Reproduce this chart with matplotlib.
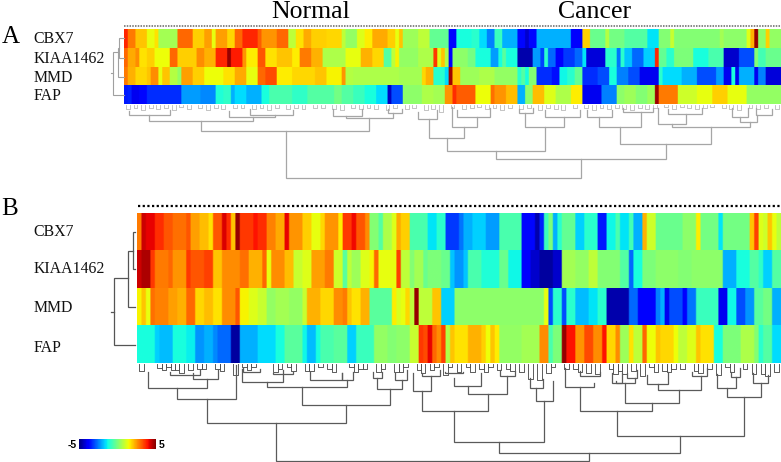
import numpy as np
import matplotlib
matplotlib.use("Agg")
import matplotlib.pyplot as plt
from matplotlib.cm import ScalarMappable
from matplotlib.colors import Normalize

W, H = 781, 462
GENES = ["CBX7", "KIAA1462", "MMD", "FAP"]
N_A, N_B = 172, 144

# Panel A, values and run lengths per gene
A_CBX7_V = [3.7,2.8,2.0,1.3,1.7,.5,3.0,1.9,2.4,1.3,2.4,1.8,3.0,3.7,3.1,2.5,3.0,.8,1.7,2.3,1.9,1.8,.8,.3,1.2,1.6,2.3,1.9,
            1.3,2.0,.4,.8,-.3,-3.7,-1.2,-1,-1.6,-2.5,-.8,-2,-3.7,-4.3,-3.7,-2,-3.9,1.9,-.2,.7,-.1,-.5,-1.5,.1,.9,.1,.5,.2,1.2,2.2,4.8,.2,1.9,.3]
A_CBX7_R = [1,2,3,2,1,5,4,3,2,1,3,2,2,4,1,4,3,2,2,2,4,4,1,3,2,2,4,2,
            1,1,4,3,5,2,4,2,2,2,2,4,2,1,2,9,3,2,4,1,4,6,3,3,1,12,1,6,1,1,1,2,1,3]
A_KIAA_V = [3.0,2.3,2.6,1.7,1.9,1.4,3.0,1.9,2.6,2.2,3.7,4.8,3.8,2.5,1.6,3.2,1.7,2.0,1.6,2.8,2.2,.6,1.3,2.2,1.8,-.5,.8,1.5,.3,.6,3.5,1.2,2,.6,-3.9,.2,-.1,-1.2,-2.2,-1.2,-.4,-1.2,-4.6,-2.2,-3.1,-1,-2.7,-3.8,-3.2,-2.7,-1.5,-4.2,-1,-2.6,-1,-1.8,-2.7,-1.7,3.7,-.3,-1,0,-1.2,-.6,-4.3,-3,.1,-.7,-.2]
A_KIAA_R = [1,2,1,2,2,4,2,5,2,3,3,1,3,1,3,2,3,4,2,3,3,6,4,3,3,2,1,1,5,4,1,1,1,1,1,4,2,4,2,1,1,3,4,2,1,1,2,2,3,2,1,5,3,1,1,2,3,3,1,2,2,5,4,4,4,4,1,2,4]
A_MMD_V = [2.8,2.2,1.8,2,2.6,1.3,2,.7,.3,2.4,1.9,1.4,1.7,2.3,1.3,3,3.3,1.6,1.8,2,1.5,2.5,.7,.6,.5,1.8,2.2,-1,-1.6,4.7,2,.4,.6,.3,-1,-.5,-1.2,.1,-3.3,-3.6,-1.3,-1,-.3,-3.3,-3,-1.2,-2.5,-3,-4,-1,-1.6,-2,-3,-2.2,-4,-1.2,-4,-2,-4,-2.5,-4.2]
A_MMD_R = [1,2,3,1,2,1,2,2,1,3,3,5,3,3,3,2,3,4,6,3,4,1,2,12,6,1,2,3,1,1,2,5,4,6,1,1,1,2,4,2,2,2,2,4,3,2,3,3,5,1,5,4,5,2,2,1,1,4,1,2,4]
A_FAP_V = [-3.5,-3.4,-4,-3.7,-3.3,-2.2,-2.4,-1.1,-.9,-2,-1.6,-2,-1.2,-.6,-.9,-.5,-.1,-.5,-.8,-1.2,-1.6,-4.4,-3,.2,.6,.5,2.5,3.6,3.1,1.4,2.9,2.5,2.1,-2,.2,2.1,1.2,.6,1.6,-4,-2.5,.2,.4,.1,.4,4.7,2.8,1.0,1.3,1.9,1.3,.3]
A_FAP_R = [1,1,2,2,9,5,4,2,2,1,3,4,2,6,4,7,2,3,3,3,3,1,3,5,3,3,2,1,5,4,1,3,3,2,2,3,3,4,3,5,4,2,3,3,2,1,5,5,4,4,5,9]

# Panel B, values and run lengths per gene
B_CBX7_V = [2.8,4.3,4.1,3.6,3.2,2.9,3.2,2.4,2.1,1.7,3.2,4.2,3.6,2.0,4.8,3.5,3.9,3.6,2.7,2.3,4.1,2.5,1.9,1.3,1.8,2.5,1.6,3.5,4.0,3.2,2.6,.1,-.5,.6,1.2,2.3,1.9,
            -.6,-1.5,-1,-3.2,-2.6,-2,-1.7,-2.2,-.6,-3.7,-4.6,-3.4,-.8,0,-2,-1,-.3,-1.7,-1,-3.5,-1.3,-.6,-1.5,-.7,-2,2.2,1,-.2,.2,1.6,-.1,-1.5,-.1,2,3.4,1.2,1,2,1.3,.8]
B_CBX7_R = [1,1,2,2,2,3,1,2,2,1,2,1,1,1,1,3,1,2,2,2,1,3,2,2,1,3,1,2,1,2,1,2,1,2,1,1,2,
            4,2,2,3,1,2,3,3,5,3,1,1,1,1,1,1,3,2,3,2,2,1,2,1,2,1,2,6,3,1,4,1,6,1,1,1,1,1,1,1]
B_KIAA_V = [4.3,4.6,3.5,2.8,3.0,2.5,3.5,3.2,3.4,2.0,2.6,2.9,2.2,3.0,1.3,2.6,2.1,.9,1.2,2.4,2.8,1.0,-.4,.8,.4,1.2,1.5,3.0,1.3,
            3.4,.8,.1,.5,-.2,0,-.2,-1.8,-2.3,-1.8,-.6,-1.1,-.2,-1.3,-3.9,-4.3,-4.7,-4.3,.5,.3,.8,.1,-.5,-2.7,-1.2,0,.2,.1,.2,-2,-1.2,-.5,-.9,-1.7,-.5]
B_KIAA_R = [1,2,1,3,1,3,1,3,2,2,4,2,3,1,1,3,2,2,2,3,2,2,1,1,2,2,1,1,4,
            1,2,1,2,1,3,2,1,2,1,3,4,2,3,2,2,3,2,3,3,2,5,2,1,2,3,5,3,7,3,3,2,1,2,2]
B_MMD_V = [1.5,2.0,1.3,2.9,2.7,2.4,2.2,3.0,1.8,2.1,1.7,2.6,3.2,1.5,1.2,.9,.3,.5,.3,.9,2.2,1.8,2.6,2.8,2.0,1.7,2.2,-.4,1.6,
           1.1,1.3,1.8,.8,4.8,.8,2.0,-1.7,.2,1.3,-3,-1,-3,-1,-1.9,-1.5,-1,-4.6,-2.7,-3.8,-2.5,-2,-4,-3,-3.8,-2.6,-.8,-4,-1.3,-3,-2.3,-.4,-.1,-2]
B_MMD_R = [1,1,1,1,3,2,2,2,2,2,2,3,1,2,2,2,2,3,3,1,3,3,2,1,1,2,2,5,1,
           1,1,1,1,1,3,2,3,20,1,1,2,1,2,3,2,2,5,2,4,1,1,1,3,1,2,5,2,2,2,2,2,2,2]
B_FAP_V = [-1.2,-1.7,-1.9,-1.2,-1.4,-2.3,-2.0,-2.4,-2.7,-4.7,-2,-1.6,-1.2,-.4,-1.3,-1.9,-1.2,-.6,-.4,-1.7,-.8,.3,.1,
           .2,.9,3.5,3.3,4.1,3,2.6,3.4,.6,2,1.7,2.2,1.9,1.4,2,1.6,.3,.5,2.6,-.6,0,4.8,3.9,2.5,3.3,2.6,3.9,1.8,2.6,.4,1.7,.8,3,1.4,2,1.8,1.4,.8,1.2,2,1.7,-1.2,0,.6,.1,-1,-.5,-1.6]
B_FAP_R = [4,1,3,3,2,2,2,1,3,2,4,4,2,4,1,2,1,3,3,2,4,3,2,
           3,2,1,1,1,1,1,1,1,1,3,3,1,1,1,1,5,4,2,1,2,1,2,2,2,2,1,2,1,2,1,2,1,2,1,3,1,2,2,1,3,2,4,3,1,1,2,2]

# Column dendrogram B: leaf pairs (left column, merge height)
B_PAIR_COL = [0,4,5,6,7,8,9,11,13,14,17,18,21,23,24,25,30,31,33,34,37,38,40,42,43,47,48,49,50,53,54,57,58,59,62,63,65,66,68,69,71,73,74,76,77,78,80,82,83,85,87,89,91,92,95,97,98,100,102,105,106,107,108,110,112,114,115,117,118,119,121,124,125,127,129,131,132,135,137,139,140,142]
B_PAIR_H = [7,4,6,3,6.5,6.5,9,6.5,5,5,5,7,11,3.5,6,3.5,8,5,3.5,7,7,7,3.5,5,8,3.5,8,5,5,8,5,8,8,3.5,6.5,9,6.5,3.5,11,3.5,8,3.5,8,5,8,3.5,6.5,5,7.5,8,15,16,9,3.5,5,5,8,9,10,5,10,7,10,7,12,3.5,8,7,8,5,5,7,9,5,11,3.5,8,5,10,10,12,8]
# Column dendrogram links: x left, x right, y of left leg, y of right leg, y of merge
B_LINKS = [(276,589.3,423.3,452.7,460.7),(206.7,346,399.3,405.3,423.3),(177,235.7,387.7,365,399.3),(147.7,207.3,371.7,379,387.7),
           (301.7,390,387.3,389.3,405.3),(266.7,346.7,381.7,380,387.3),(376.7,402,378.3,380,389.3),
           (499.3,680,442.3,435.7,452.7),(454.3,544,410.7,400.7,442.3),(421.7,487.7,391.3,394,410.7),(413.3,430.7,372.7,376,391.3),
           (467.7,507.3,385.7,376,394),(454.3,480.7,378.3,373.3,385.7),(536,552.7,388.3,381,400.7),(530,542.7,378.3,379.3,388.3),
           (616.7,743.7,411.3,396.7,435.7),(580,652.3,387.3,403.3,411.3),(565,594,368,382.7,387.3),(625.3,679.3,382.7,390,403.3),
           (616,635,380.7,378.3,382.7),(657.7,701,384.3,376,390),(726.7,760.7,388.3,382.7,396.7),(717,735.7,374,377.3,388.3),(753,768,373.3,375,382.7),
           (192.7,218.3,373.3,370,379),(170,200,371.7,370,375),(241.7,283.3,369,370,381.7),(243.3,260,368,369,371.7),(273.3,293.3,372.7,371.7,374),
           (310,341.7,371.7,373.3,379.7),(341.7,352.7,373.3,371.7,380),(373.3,381.7,371.7,371.7,378.3),
           (395,407.3,372.7,370,380),(421.7,440,372.7,370,376),(445,463.3,371.7,371.7,373.3),(500,515,370,371,376),(580,600,371,372,376),
           (611.7,621.7,373,373,382.7),(627.3,636.7,373,370,378.3),(646.7,668.3,375,371.7,384.3),(691.7,706.7,371.7,368,376),(731,740,371.7,368,377.3)]
# Row dendrograms: y top, y bottom, x of top leg, x of bottom leg, x of merge
B_ROW_LINKS = [(231.7,269.3,134.7,134.7,132.7),(250.7,307.3,132.7,134.7,128),(278.3,345,128,134.7,114)]
A_ROW_LINKS = [(38.3,58,123.5,123.5,119.3),(48,77,119.3,123.5,118),(52.3,95,118,123.5,112.7)]

A_PAIR_COL = [0,2,4,6,8,10,12,14,16,19,21,23,25,28,30,33,35,37,39,42,44,46,49,51,54,56,59,61,63,65,68,70,73,75,78,80,82,85,88,90,92,94,96,98,100,103,105,108,110,112,114,117,120,122,124,126,128,130,132,134,136,138,141,143,145,147,149,151,153,156,158,160,163,165,167,170]
A_PAIR_H = [4,3,5,3,4,3,5,2.5,4,3,5,3,4,3,3,4,3,5,3,4,3,4,3,3,4,5,3,4,3,4,5,3,4,3,5,4,7,3,4,3,2.5,4,3,5,3,4,3,5,3,4,5,3,3,5,3,4,3,4,5,3,4,3,2.5,4,2.5,3,4,3,2.5,3,4,5,3,4,3,4]
A_LINKS = [(285.7,581.3,130.7,159.3,178.3),(201,369.3,121,118.3,130.7),(149.3,253.3,115,117.3,121),(129,170,111,110,115),(229.3,275,111,115,117.3),(250,293,109,110,115),
           (345.7,393.3,115.7,112.7,118.3),(333,362,109,109,115.7),(388,401.7,109,109,112.7),
           (496,665.7,150.7,144.3,159.3),(446.7,544.7,137.7,126.7,150.7),(429.3,464,119.3,126.7,137.7),(451.7,477.3,107.3,117.3,126.7),(457,490,110,108,117.3),(418,437,112,110,119.3),
           (525,564.3,113.3,117.3,126.7),(519,533,109,108,113.3),(545,580,110,110,117.3),
           (620,711,126.7,127.3,144.3),(599.3,640.7,117.3,111.7,126.7),(587,612,110,110,117.3),(623,653,108,108,111.7),
           (671.7,750,124,121.7,127.3),(658.3,685.7,108,114,124),(668,702,109,108,114),(740,756.7,116.7,115,121.7),(732,748,108,108,116.7),(756,772,108,109,115)]

plt.rcParams["font.family"] = ["Liberation Serif", "DejaVu Serif"]
fig = plt.figure(figsize=(W / 100, H / 100), dpi=100, facecolor="white")
NORM = Normalize(-5, 5)


def axes_at(x0, y0, x1, y1):
    return fig.add_axes([x0 / W, 1 - y1 / H, (x1 - x0) / W, (y1 - y0) / H])


def expand(vals, runs, n):
    a = np.repeat(vals, runs)
    return np.pad(a, (0, max(0, n - a.size)), mode="edge")[:n]


def heat(box, rows, n):
    ax = axes_at(*box)
    for i, (v, r) in enumerate(rows):
        # every column is sampled three times so that only its edges soften
        ax.imshow(np.repeat(expand(v, r, n), 3)[None, :], aspect="auto", cmap="jet", norm=NORM,
                  interpolation="bilinear", interpolation_stage="rgba",
                  extent=(-.5, n - .5, i + 1, i))
    ax.set_xlim(-.5, n - .5)
    ax.set_ylim(len(rows), 0)
    ax.axis("off")


A_BOX = (124, 29, 781, 104.5)
B_BOX = (137, 212.5, 781, 363.5)
heat(A_BOX, [(A_CBX7_V, A_CBX7_R), (A_KIAA_V, A_KIAA_R), (A_MMD_V, A_MMD_R), (A_FAP_V, A_FAP_R)], N_A)
heat(B_BOX, [(B_CBX7_V, B_CBX7_R), (B_KIAA_V, B_KIAA_R), (B_MMD_V, B_MMD_R), (B_FAP_V, B_FAP_R)], N_B)

ov = fig.add_axes([0, 0, 1, 1], facecolor="none")
ov.set_xlim(0, W)
ov.set_ylim(H, 0)
ov.axis("off")


def links(items, color, lw, base=None):
    for x1, x2, yl, yr, yt in items:
        ov.plot([x1, x1, x2, x2], [yl, yt, yt, yr], color=color, lw=lw, solid_joinstyle="miter")


def row_links(items, color, lw):
    for y1, y2, xa, xb, xt in items:
        ov.plot([xa, xt, xt, xb], [y1, y1, y2, y2], color=color, lw=lw, solid_joinstyle="miter")


def pairs(cols, hts, box, n, color, lw):
    cw = (box[2] - box[0]) / n
    for c, h in zip(cols, hts):
        xa, xb = box[0] + (c + .5) * cw, box[0] + (c + 1.5) * cw
        ov.plot([xa, xa, xb, xb], [box[3], box[3] + h, box[3] + h, box[3]], color=color, lw=lw)


pairs(A_PAIR_COL, A_PAIR_H, A_BOX, N_A, "#b4b4b4", 0.55)
links(A_LINKS, "#a6a6a6", 0.9)
row_links(A_ROW_LINKS, "#a0a0a0", 0.8)
ov.plot([111, 112.7], [73.3, 73.3], color="#a0a0a0", lw=0.8)
pairs(B_PAIR_COL, B_PAIR_H, B_BOX, N_B, "#505050", 0.65)
links(B_LINKS, "#5a5a5a", 0.9)
row_links(B_ROW_LINKS, "#555555", 0.9)
ov.plot([111.3, 114], [311.7, 311.7], color="#555555", lw=0.9)

ov.plot([124, 781], [25.7, 25.7], color="#666666", lw=1.1, ls=(0, (1, 0.8)))
ov.plot([138, 780], [205.8, 205.8], color="black", lw=1.6, ls=(0, (1, 1.1)))

for name, y in zip(GENES, [39, 59, 78, 96]):
    ov.text(33.5, y, name, fontsize=11.4, ha="left", va="center", color="#111111")
for name, y in zip(GENES, [231.5, 269, 308, 348.5]):
    ov.text(33.5, y, name, fontsize=11.4, ha="left", va="center", color="#111111")
ov.text(311, 17.5, "Normal", fontsize=18.5, ha="center", va="baseline", color="black")
ov.text(594.5, 17.5, "Cancer", fontsize=18.5, ha="center", va="baseline", color="black")
ov.text(1.5, 43, "A", fontsize=18, ha="left", va="baseline", color="black")
ov.text(1.5, 215, "B", fontsize=18, ha="left", va="baseline", color="black")

cax = axes_at(79.3, 439.3, 156, 449.3)
cb = fig.colorbar(ScalarMappable(norm=NORM, cmap="jet"), cax=cax, orientation="horizontal")
cb.set_ticks([])
cb.outline.set_visible(False)
ov.text(77, 444.5, "-5", fontsize=7.5, fontweight="bold", family="Liberation Sans", ha="right", va="center")
ov.text(159, 444.5, "5", fontsize=7.5, fontweight="bold", family="Liberation Sans", ha="left", va="center")

fig.savefig("out.png", dpi=100)
